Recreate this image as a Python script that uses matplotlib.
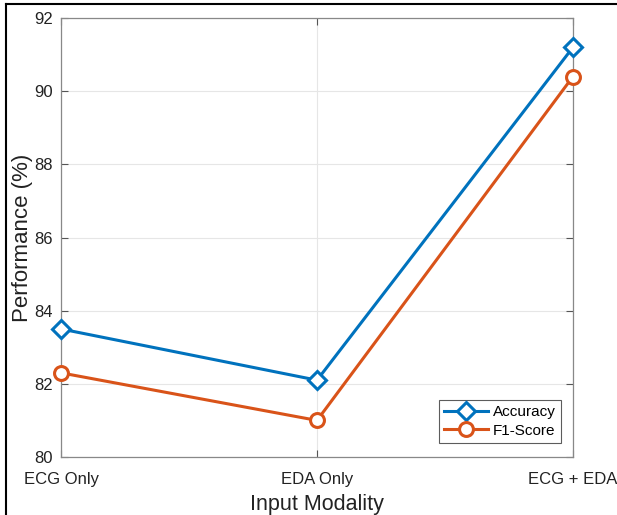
import matplotlib
matplotlib.use("Agg")
import matplotlib.pyplot as plt
from matplotlib.lines import Line2D

# datos
modalities = ["ECG Only", "EDA Only", "ECG + EDA"]
accuracy = [83.5, 82.1, 91.2]
f1_score = [82.3, 81.0, 90.4]
y_ticks = [80, 82, 84, 86, 88, 90, 92]

C_ACC = "#0072BD"
C_F1 = "#D95319"
C_BOX = "#888888"

plt.rcParams["font.family"] = ["Liberation Sans", "DejaVu Sans"]

W, H = 617, 515
fig = plt.figure(figsize=(W / 100, H / 100), dpi=100)
ax = fig.add_axes([61 / W, 1 - 457 / H, (573 - 61) / W, (457 - 18) / H])

x = list(range(len(modalities)))
ax.plot(x, accuracy, color=C_ACC, linewidth=2.2, marker="D", markersize=9,
        markerfacecolor="white", markeredgecolor=C_ACC, markeredgewidth=2.2,
        label="Accuracy", zorder=4, clip_on=False)
ax.plot(x, f1_score, color=C_F1, linewidth=2.2, marker="o", markersize=10,
        markerfacecolor="white", markeredgecolor=C_F1, markeredgewidth=2.2,
        label="F1-Score", zorder=3, clip_on=False)

ax.set_xlim(0, 2)
ax.set_ylim(80, 92)
ax.set_xticks(x)
ax.set_xticklabels(modalities)
ax.set_yticks(y_ticks)
ax.grid(True, color="#e6e6e6", linewidth=0.8)
ax.set_axisbelow(True)
ax.tick_params(direction="in", length=5, width=0.8, color="#555555",
               labelsize=12, labelcolor="#222222", right=True, top=True)
ax.tick_params(axis="x", pad=11)
ax.tick_params(axis="y", pad=6)
for s in ax.spines.values():
    s.set_color(C_BOX)
    s.set_linewidth(0.9)

ax.set_xlabel("Input Modality", fontsize=15.5, color="#222222", labelpad=5)
ax.set_ylabel("Performance (%)", fontsize=16, color="#222222")
ax.yaxis.set_label_coords((33 - 61) / 512, 0.5)

leg = ax.legend(loc="lower right", bbox_to_anchor=(0.977, 0.032), fontsize=11,
                frameon=True, fancybox=False, handlelength=2.9,
                borderpad=0.35, labelspacing=0.3, handletextpad=0.3,
                borderaxespad=0)
leg.get_frame().set_edgecolor("#333333")
leg.get_frame().set_linewidth(0.8)

# marco exterior (izquierda y arriba)
fig.add_artist(Line2D([6 / W, 6 / W], [0, 1 - 4 / H], transform=fig.transFigure,
                      color="black", linewidth=1.5))
fig.add_artist(Line2D([6 / W, 1], [1 - 4 / H, 1 - 4 / H], transform=fig.transFigure,
                      color="black", linewidth=1.5))

fig.savefig("out.png", dpi=100)
